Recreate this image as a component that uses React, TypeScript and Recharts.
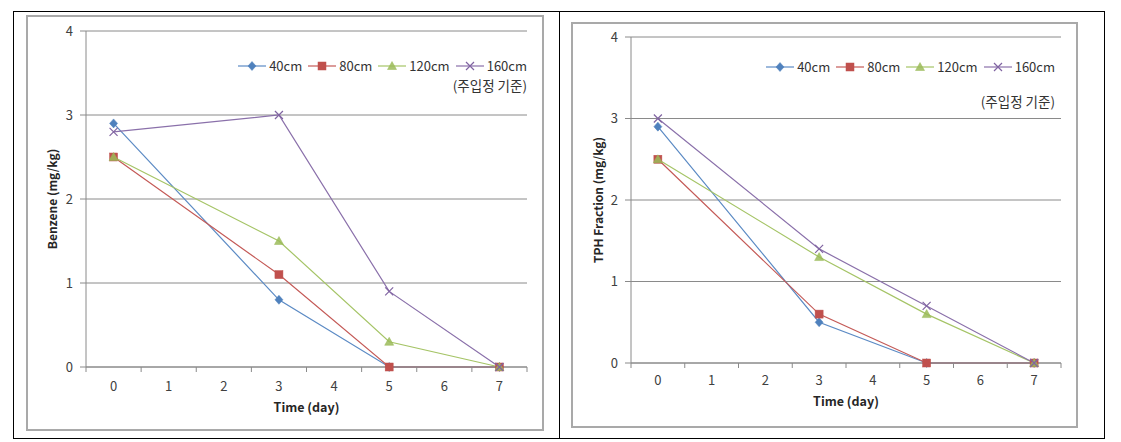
import React from 'react';
import { LineChart, Line, XAxis, YAxis, CartesianGrid, Legend } from 'recharts';

// ---------- data ----------
const days = [0, 3, 5, 7];
const seriesNames = ['40cm', '80cm', '120cm', '160cm'];

const benzene40 = [2.9, 0.8, 0, 0];
const benzene80 = [2.5, 1.1, 0, 0];
const benzene120 = [2.5, 1.5, 0.3, 0];
const benzene160 = [2.8, 3.0, 0.9, 0];

const tph40 = [2.9, 0.5, 0, 0];
const tph80 = [2.5, 0.6, 0, 0];
const tph120 = [2.5, 1.3, 0.6, 0];
const tph160 = [3.0, 1.4, 0.7, 0];

const dayTickLabels = [0, 1, 2, 3, 4, 5, 6, 7];
const yTicks = [0, 1, 2, 3, 4];
const noteText = '(주입정 기준)';
const xTitle = 'Time (day)';
const benzeneTitle = 'Benzene (mg/kg)';
const tphTitle = 'TPH Fraction (mg/kg)';

// ---------- styles ----------
const FONT = "'Noto Sans CJK KR', 'Noto Sans', sans-serif";
const GRID = '#8a8a8a';
const TEXT = '#404040';
const seriesStyle = [
  { line: '#5b8ac4', fill: '#4F81BD', shape: 'diamond' },
  { line: '#c45a57', fill: '#C0504D', shape: 'square' },
  { line: '#a5c466', fill: '#9BBB59', shape: 'triangle' },
  { line: '#8a70aa', fill: '#8064A2', shape: 'x' },
];

const buildRows = (a: number[], b: number[], c: number[], d: number[]) =>
  days.map((day, i) => ({ day, s40: a[i], s80: b[i], s120: c[i], s160: d[i] }));

const benzeneRows = buildRows(benzene40, benzene80, benzene120, benzene160);
const tphRows = buildRows(tph40, tph80, tph120, tph160);
const seriesKeys = ['s40', 's80', 's120', 's160'];

const xDomainTicks = [...dayTickLabels.map((d) => d - 0.5), dayTickLabels[dayTickLabels.length - 1] + 0.5, ...dayTickLabels].sort(
  (p, q) => p - q
);

const Marker = ({ cx, cy, shape, color }: any) => {
  if (cx == null || cy == null) return null;
  switch (shape) {
    case 'diamond':
      return <path d={`M${cx},${cy - 4.5}L${cx + 4},${cy}L${cx},${cy + 4.5}L${cx - 4},${cy}Z`} fill={color} stroke={color} strokeWidth={0.5} />;
    case 'square':
      return <rect x={cx - 4} y={cy - 4} width={8} height={8} fill={color} stroke={color} strokeWidth={0.5} />;
    case 'triangle':
      return <path d={`M${cx},${cy - 4.5}L${cx + 4.5},${cy + 3.5}L${cx - 4.5},${cy + 3.5}Z`} fill={color} stroke={color} strokeWidth={0.5} fillOpacity={0.85} />;
    default:
      return <path d={`M${cx - 4},${cy - 4}L${cx + 4},${cy + 4}M${cx + 4},${cy - 4}L${cx - 4},${cy + 4}`} stroke={color} strokeWidth={1.2} fill="none" />;
  }
};

const TICK_SIZE = 6;

const makeXTick = (tickMargin: number) => (props: any) => {
  const { x, y, payload } = props;
  const v = payload.value;
  if (Number.isInteger(v)) {
    return (
      <text x={x} y={y} dy="0.71em" textAnchor="middle" fill={TEXT} fontSize={13} fontFamily={FONT}>
        {v}
      </text>
    );
  }
  const axisY = y - TICK_SIZE - tickMargin;
  return <line x1={x} x2={x} y1={axisY} y2={axisY + 5} stroke={GRID} strokeWidth={1} />;
};

const LegendIcon = ({ idx }: { idx: number }) => {
  const st = seriesStyle[idx];
  return (
    <svg width={28} height={12} style={{ display: 'block' }}>
      <line x1={0} x2={28} y1={6} y2={6} stroke={st.line} strokeWidth={1.2} />
      <Marker cx={14} cy={6} shape={st.shape} color={st.fill} />
    </svg>
  );
};

const makeLegend = (noteGap: number) => () => (
  <div style={{ fontFamily: FONT, fontSize: 13, color: '#333', lineHeight: '15px' }}>
    <div style={{ display: 'flex', alignItems: 'center', justifyContent: 'flex-end', height: 15 }}>
      {seriesNames.map((n, i) => (
        <div key={n} style={{ display: 'flex', alignItems: 'center', marginLeft: i === 0 ? 0 : 6 }}>
          <LegendIcon idx={i} />
          <span style={{ marginLeft: 3 }}>{n}</span>
        </div>
      ))}
    </div>
    <div style={{ textAlign: 'right', marginTop: noteGap, fontSize: 13.5 }}>{noteText}</div>
  </div>
);

type PanelProps = {
  rows: any[];
  title: string;
  left: number;
  top: number;
  width: number;
  height: number;
  yAxisWidth: number;
  margin: { top: number; right: number; bottom: number; left: number };
  xTickMargin: number;
  xTitleOffset: number;
  legendPos: { left: number; top: number; width: number };
  noteGap: number;
};

const Panel = (p: PanelProps) => (
  <div style={{ position: 'absolute', left: p.left, top: p.top }}>
    <LineChart width={p.width} height={p.height} data={p.rows} margin={p.margin}>
      <CartesianGrid vertical={false} stroke={GRID} strokeWidth={1} />
      <XAxis
        dataKey="day"
        type="number"
        domain={[-0.5, 7.5]}
        ticks={xDomainTicks}
        interval={0}
        tickLine={false}
        tickSize={TICK_SIZE}
        tickMargin={p.xTickMargin}
        tick={makeXTick(p.xTickMargin)}
        axisLine={{ stroke: GRID }}
        height={50}
        label={{
          value: xTitle,
          position: 'insideBottom',
          offset: p.xTitleOffset,
          style: { fontFamily: FONT, fontWeight: 700, fontSize: 12.5, fill: '#262626' },
        }}
      />
      <YAxis
        type="number"
        domain={[0, 4]}
        ticks={yTicks}
        width={p.yAxisWidth}
        tickSize={TICK_SIZE}
        tickMargin={7}
        tickLine={{ stroke: GRID }}
        axisLine={{ stroke: GRID }}
        tick={{ fill: TEXT, fontSize: 13, fontFamily: FONT }}
        label={{
          value: p.title,
          angle: -90,
          position: 'center',
          style: { fontFamily: FONT, fontWeight: 700, fontSize: 12, fill: '#262626' },
        }}
      />
      <Legend
        layout="horizontal"
        verticalAlign="middle"
        align="center"
        wrapperStyle={{ left: p.legendPos.left, top: p.legendPos.top, width: p.legendPos.width }}
        content={makeLegend(p.noteGap)}
      />
      {seriesKeys.map((k, i) => (
        <Line
          key={k}
          dataKey={k}
          name={seriesNames[i]}
          stroke={seriesStyle[i].line}
          strokeWidth={1.2}
          isAnimationActive={false}
          activeDot={false}
          dot={(dp: any) => <Marker key={`${k}-${dp.index}`} cx={dp.cx} cy={dp.cy} shape={seriesStyle[i].shape} color={seriesStyle[i].fill} />}
        />
      ))}
    </LineChart>
  </div>
);

export default function App() {
  return (
    <div style={{ position: 'absolute', left: 0, top: 0, width: 1121, height: 442, background: '#fff', overflow: 'hidden' }}>
      {/* table borders */}
      <div style={{ position: 'absolute', left: 13, top: 11, width: 1092, height: 428, border: '1px solid #000', boxSizing: 'border-box' }} />
      <div style={{ position: 'absolute', left: 559, top: 11, width: 1, height: 428, background: '#000' }} />
      {/* chart frames */}
      <div style={{ position: 'absolute', left: 26, top: 15, width: 518, height: 416, border: '2px solid #a9a9a9', boxSizing: 'border-box' }} />
      <div style={{ position: 'absolute', left: 571, top: 22, width: 507, height: 406, border: '2px solid #a9a9a9', boxSizing: 'border-box' }} />

      <Panel
        rows={benzeneRows}
        title={benzeneTitle}
        left={20}
        top={15}
        width={523}
        height={415}
        yAxisWidth={66}
        margin={{ top: 16, right: 16, bottom: 13, left: 0 }}
        xTickMargin={9}
        xTitleOffset={5}
        legendPos={{ left: 210, top: 43, width: 297 }}
        noteGap={5}
      />
      <Panel
        rows={tphRows}
        title={tphTitle}
        left={567}
        top={22}
        width={510}
        height={405}
        yAxisWidth={64}
        margin={{ top: 15, right: 16, bottom: 14, left: 0 }}
        xTickMargin={7}
        xTitleOffset={7}
        legendPos={{ left: 200, top: 37, width: 288 }}
        noteGap={20}
      />
    </div>
  );
}
